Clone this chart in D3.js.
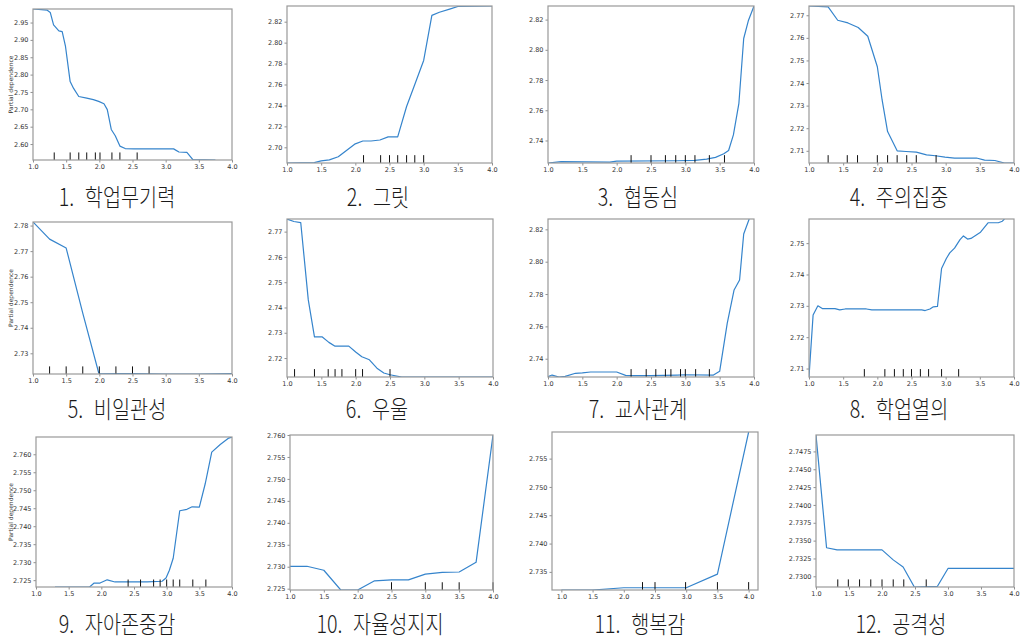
<!DOCTYPE html>
<html>
<head>
<meta charset="utf-8">
<script src="https://cdn.jsdelivr.net/npm/d3@7"></script>
<style>
  html, body { margin: 0; padding: 0; background: #fff; }
  svg { display: block; }
  .tick-label { font-family: "DejaVu Sans", sans-serif; font-size: 6.5px; fill: #333; }
  .title { font-family: "Noto Sans CJK KR", sans-serif; font-size: 24px; font-weight: 300; fill: #1a1a1a; }
  .ylab { font-family: "DejaVu Sans", sans-serif; font-size: 6px; fill: #333; }
</style>
</head>
<body>
<div id="chart"></div>
<script>
// feature titles
const titles = ['1. 학업무기력', '2. 그릿', '3. 협동심', '4. 주의집중', '5. 비일관성', '6. 우울',
    '7. 교사관계', '8. 학업열의', '9. 자아존중감', '10. 자율성지지', '11. 행복감', '12. 공격성'];

const xTicks = [1.0, 1.5, 2.0, 2.5, 3.0, 3.5, 4.0];

// partial dependence curves (grid values / averaged prediction)
const grid1 = [1.0, 1.21, 1.26, 1.31, 1.39, 1.44, 1.49, 1.56, 1.61, 1.69, 1.81, 1.91, 1.99, 2.07, 2.12, 2.18, 2.24, 2.31, 2.39, 2.52, 3.12, 3.20, 3.32, 3.41, 3.75];
const pd1 = [2.989, 2.986, 2.979, 2.943, 2.926, 2.924, 2.881, 2.780, 2.761, 2.737, 2.732, 2.728, 2.723, 2.716, 2.699, 2.642, 2.624, 2.594, 2.587, 2.586, 2.586, 2.577, 2.576, 2.555, 2.554];
const deciles1 = [1.32, 1.56, 1.69, 1.81, 1.94, 2.01, 2.19, 2.31, 2.57];
const yTicks1 = [2.60, 2.65, 2.70, 2.75, 2.80, 2.85, 2.90, 2.95];

const grid2 = [1.0, 1.40, 1.50, 1.62, 1.75, 1.87, 1.99, 2.11, 2.23, 2.36, 2.48, 2.62, 2.75, 2.87, 3.00, 3.12, 3.23, 3.38, 3.50, 4.0];
const pd2 = [2.685, 2.6854, 2.687, 2.688, 2.691, 2.697, 2.703, 2.706, 2.706, 2.707, 2.710, 2.710, 2.739, 2.760, 2.783, 2.826, 2.829, 2.832, 2.8345, 2.835];
const deciles2 = [2.12, 2.37, 2.50, 2.62, 2.75, 2.87, 3.0];
const yTicks2 = [2.70, 2.72, 2.74, 2.76, 2.78, 2.80, 2.82];

const grid3 = [1.0, 1.19, 1.90, 2.0, 2.88, 3.14, 3.31, 3.44, 3.56, 3.63, 3.70, 3.78, 3.85, 3.92, 4.0];
const pd3 = [2.7251, 2.726, 2.7257, 2.7264, 2.7266, 2.7268, 2.7277, 2.7288, 2.7312, 2.7334, 2.7437, 2.7646, 2.8075, 2.8196, 2.829];
const deciles3 = [2.21, 2.50, 2.71, 2.86, 3.00, 3.14, 3.35, 3.57];
const yTicks3 = [2.74, 2.76, 2.78, 2.80, 2.82];

const grid4 = [1.0, 1.28, 1.42, 1.57, 1.72, 1.86, 2.0, 2.07, 2.15, 2.29, 2.42, 2.57, 2.72, 2.85, 2.99, 3.13, 3.45, 3.57, 3.72, 3.86, 4.0];
const pd4 = [2.7741, 2.7737, 2.7678, 2.7666, 2.7646, 2.7607, 2.7472, 2.7325, 2.7185, 2.7100, 2.7097, 2.7094, 2.7082, 2.7078, 2.7072, 2.7068, 2.7068, 2.7059, 2.7057, 2.7046, 2.7046];
const deciles4 = [1.28, 1.56, 1.71, 2.0, 2.15, 2.29, 2.43, 2.57, 2.86];
const yTicks4 = [2.71, 2.72, 2.73, 2.74, 2.75, 2.76, 2.77];

const grid5 = [1.0, 1.25, 1.5, 1.75, 1.99, 2.0, 2.5, 3.0, 3.5, 4.0];
const pd5 = [2.7814, 2.7747, 2.7712, 2.7457, 2.7224, 2.7222, 2.7221, 2.7219, 2.7219, 2.7221];
const deciles5 = [1.25, 1.5, 1.75, 2.0, 2.25, 2.5, 2.75];
const yTicks5 = [2.73, 2.74, 2.75, 2.76, 2.77, 2.78];

const grid6 = [1.0, 1.10, 1.20, 1.31, 1.40, 1.51, 1.61, 1.70, 1.90, 2.0, 2.09, 2.20, 2.31, 2.41, 2.50, 2.67, 4.0];
const pd6 = [2.775, 2.774, 2.7736, 2.743, 2.7284, 2.7284, 2.7262, 2.7247, 2.7247, 2.7224, 2.7205, 2.7193, 2.716, 2.7141, 2.7134, 2.7125, 2.7125];
const deciles6 = [1.11, 1.40, 1.60, 1.70, 1.80, 2.0, 2.10, 2.50];
const yTicks6 = [2.72, 2.73, 2.74, 2.75, 2.76, 2.77];

const grid7 = [1.0, 1.06, 1.16, 1.25, 1.40, 1.50, 1.62, 2.0, 2.13, 2.22, 2.49, 2.88, 3.0, 3.41, 3.50, 3.61, 3.71, 3.79, 3.85, 3.93];
const pd7 = [2.7289, 2.7299, 2.7287, 2.7291, 2.731, 2.7312, 2.7318, 2.7318, 2.7297, 2.7295, 2.7295, 2.7299, 2.7301, 2.7299, 2.7322, 2.7619, 2.7825, 2.7887, 2.8171, 2.8264];
const deciles7 = [2.21, 2.43, 2.57, 2.71, 2.79, 2.93, 3.0, 3.15, 3.35];
const yTicks7 = [2.74, 2.76, 2.78, 2.80, 2.82];

const grid8 = [1.0, 1.01, 1.06, 1.13, 1.20, 1.38, 1.45, 1.53, 1.84, 1.92, 2.65, 2.70, 2.77, 2.82, 2.88, 2.94, 3.01, 3.06, 3.13, 3.21, 3.26, 3.32, 3.37, 3.51, 3.62, 3.77, 3.83, 3.86];
const pd8 = [2.7073, 2.7107, 2.7271, 2.730, 2.7291, 2.7291, 2.7287, 2.729, 2.729, 2.7287, 2.7287, 2.7285, 2.729, 2.7297, 2.7298, 2.7419, 2.7451, 2.7469, 2.7484, 2.7511, 2.7523, 2.7513, 2.7515, 2.7535, 2.7565, 2.7565, 2.757, 2.7577];
const deciles8 = [1.81, 2.11, 2.25, 2.38, 2.50, 2.63, 2.75, 2.94, 3.19];
const yTicks8 = [2.71, 2.72, 2.73, 2.74, 2.75];

const grid9 = [1.29, 1.62, 1.82, 1.89, 1.98, 2.09, 2.21, 2.49, 2.70, 2.93, 2.99, 3.04, 3.10, 3.20, 3.31, 3.39, 3.50, 3.59, 3.69, 3.82, 3.95, 4.0];
const pd9 = [2.7231, 2.7231, 2.7231, 2.7242, 2.7242, 2.7251, 2.7245, 2.7245, 2.7245, 2.7247, 2.7256, 2.7277, 2.7311, 2.7443, 2.7447, 2.7454, 2.7453, 2.7518, 2.7606, 2.7627, 2.7645, 2.7648];
const deciles9 = [2.41, 2.60, 2.80, 2.90, 3.0, 3.10, 3.20, 3.40, 3.60];
const yTicks9 = [2.725, 2.730, 2.735, 2.740, 2.745, 2.750, 2.755, 2.760];

const grid10 = [1.0, 1.25, 1.5, 1.75, 2.0, 2.25, 2.5, 2.75, 3.0, 3.25, 3.5, 3.75, 4.0];
const pd10 = [2.7301, 2.7301, 2.7292, 2.7247, 2.7247, 2.7268, 2.7270, 2.7270, 2.7283, 2.7287, 2.7288, 2.731, 2.760];
const deciles10 = [2.5, 3.0, 3.25, 3.5, 4.0];
const yTicks10 = [2.725, 2.730, 2.735, 2.740, 2.745, 2.750, 2.755, 2.760];

const grid11 = [1.0, 1.5, 2.0, 3.0, 3.5, 4.0];
const pd11 = [2.7318, 2.7318, 2.7322, 2.7322, 2.7346, 2.7597];
const deciles11 = [2.30, 2.50, 2.99, 3.5, 4.0];
const yTicks11 = [2.735, 2.740, 2.745, 2.750, 2.755];

const grid12 = [1.0, 1.16, 1.32, 2.0, 2.17, 2.32, 2.49, 2.84, 3.0, 4.0];
const pd12 = [2.7498, 2.7340, 2.7337, 2.7337, 2.7323, 2.7313, 2.7285, 2.7286, 2.7311, 2.7311];
const deciles12 = [1.33, 1.49, 1.66, 1.83, 2.0, 2.17, 2.33, 2.67];
const yTicks12 = [2.7300, 2.7325, 2.7350, 2.7375, 2.7400, 2.7425, 2.7450, 2.7475];

const series = [
    [grid1, pd1, deciles1, yTicks1, '.2f'],
    [grid2, pd2, deciles2, yTicks2, '.2f'],
    [grid3, pd3, deciles3, yTicks3, '.2f'],
    [grid4, pd4, deciles4, yTicks4, '.2f'],
    [grid5, pd5, deciles5, yTicks5, '.2f'],
    [grid6, pd6, deciles6, yTicks6, '.2f'],
    [grid7, pd7, deciles7, yTicks7, '.2f'],
    [grid8, pd8, deciles8, yTicks8, '.2f'],
    [grid9, pd9, deciles9, yTicks9, '.3f'],
    [grid10, pd10, deciles10, yTicks10, '.3f'],
    [grid11, pd11, deciles11, yTicks11, '.3f'],
    [grid12, pd12, deciles12, yTicks12, '.4f']
];

// layout of each axes box in the picture
const boxes = [
    { l: 33, r: 232, t: 9, b: 160, tx: 117, ty: 206 },
    { l: 287, r: 492, t: 6, b: 163, tx: 378, ty: 206 },
    { l: 548, r: 754, t: 6, b: 163, tx: 638, ty: 206 },
    { l: 809, r: 1014, t: 6, b: 163, tx: 899, ty: 206 },
    { l: 33, r: 232, t: 222, b: 374, tx: 117, ty: 418 },
    { l: 287, r: 493, t: 219, b: 377, tx: 377, ty: 418 },
    { l: 548, r: 754, t: 219, b: 377, tx: 638, ty: 418 },
    { l: 809, r: 1014, t: 219, b: 377, tx: 899, ty: 418 },
    { l: 36, r: 232, t: 437, b: 587, tx: 117, ty: 633 },
    { l: 290, r: 493, t: 435, b: 590, tx: 380, ty: 633 },
    { l: 552, r: 758, t: 432, b: 590, tx: 640, ty: 633 },
    { l: 816, r: 1014, t: 435, b: 587, tx: 901, ty: 633 }
];

const width = 1025, height = 641;
const lineColor = '#3584cc';

const svg = d3.select('#chart').append('svg')
    .attr('width', width)
    .attr('height', height);

series.forEach(([grid, pd, deciles, yTicks, fmt], i) => {
    const box = boxes[i];
    const w = box.r - box.l, h = box.b - box.t;
    // panel 11 uses matplotlib's default 5% margins
    const xDomain = i === 10 ? [0.85, 4.15] : [1, 4];
    const x = d3.scaleLinear().domain(xDomain).range([0, w]);
    const ext = d3.extent(pd);
    const y = d3.scaleLinear().domain(ext).range([h, 0]);

    const g = svg.append('g').attr('transform', `translate(${box.l},${box.t})`);

    g.append('clipPath').attr('id', 'clip' + i)
        .append('rect').attr('width', w).attr('height', h);

    const xAxis = g.append('g')
        .attr('transform', `translate(0,${h})`)
        .call(d3.axisBottom(x).tickValues(xTicks).tickFormat(d3.format('.1f')).tickSize(2.5).tickPadding(2));
    const yAxis = g.append('g')
        .call(d3.axisLeft(y).tickValues(yTicks).tickFormat(d3.format(fmt)).tickSize(2.5).tickPadding(2));
    [xAxis, yAxis].forEach(a => {
        a.select('.domain').remove();
        a.selectAll('line').attr('stroke', '#444').attr('stroke-width', 0.6);
        a.selectAll('text').attr('class', 'tick-label').attr('font-size', null).attr('font-family', null);
    });

    const line = d3.line()
        .x((d, j) => x(grid[j]))
        .y(d => y(d));

    g.append('path')
        .datum(pd)
        .attr('clip-path', `url(#clip${i})`)
        .attr('fill', 'none')
        .attr('stroke', lineColor)
        .attr('stroke-width', 1.2)
        .attr('stroke-linejoin', 'round')
        .attr('d', line);

    // deciles rug
    const rugTop = ext[0] + (ext[1] - ext[0]) * 0.05;
    g.selectAll('.rug')
        .data(deciles)
        .enter()
        .append('line')
        .attr('x1', d => x(d))
        .attr('x2', d => x(d))
        .attr('y1', y(ext[0]))
        .attr('y2', y(rugTop))
        .attr('stroke', '#111')
        .attr('stroke-width', 1);

    g.append('rect')
        .attr('width', w)
        .attr('height', h)
        .attr('fill', 'none')
        .attr('stroke', '#999')
        .attr('stroke-width', 1.2);

    if (i % 4 === 0) {
        svg.append('text')
            .attr('class', 'ylab')
            .attr('text-anchor', 'middle')
            .attr('transform', `translate(13,${box.t + h / 2}) rotate(-90)`)
            .text('Partial dependence');
    }

    // number and name with a wider gap, like the source figure
    const [num, name] = titles[i].split(' ');
    const t = svg.append('text')
        .attr('class', 'title')
        .attr('text-anchor', 'middle')
        .attr('transform', `translate(${box.tx},${box.ty}) scale(0.82,1)`);
    t.append('tspan').text(num);
    t.append('tspan').attr('dx', 13).text(name);
});
</script>
</body>
</html>
